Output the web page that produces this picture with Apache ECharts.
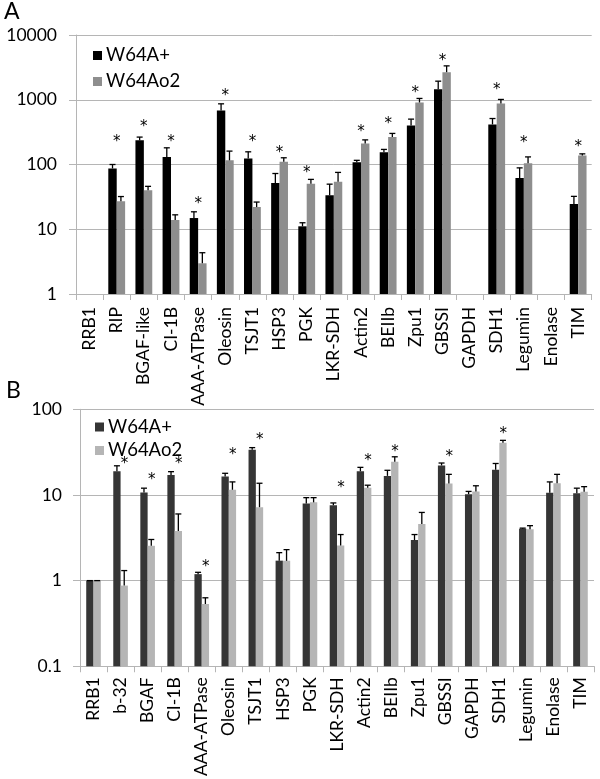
<!DOCTYPE html>
<html><head><meta charset="utf-8">
<script src="https://cdn.jsdelivr.net/npm/echarts@6/dist/echarts.min.js"></script>
<style>html,body{margin:0;padding:0;background:#fff}#a,#b{position:absolute;left:0;top:0;width:600px;height:779px}</style>
</head><body><div id="a"></div><div id="b"></div>
<script>
// ---------- Panel A ----------
const categoriesA = ['RRB1','RIP','BGAF-like','CI-1B','AAA-ATPase','Oleosin','TSJT1','HSP3','PGK','LKR-SDH','Actin2','BEIIb','Zpu1','GBSSI','GAPDH','SDH1','Legumin','Enolase','TIM'];
const aPlus   = [1, 87, 236, 130, 14.9, 684, 124, 51.6, 11.1, 33.4, 108, 154, 401, 1458, 1, 416, 61.7, 1, 24.5];
const aPlusSD = [null, 13, 29, 51, 3.7, 181, 33, 21, 1.5, 16.3, 8, 17, 101, 478, null, 97, 27, null, 7.7];
const aO2     = [1, 27, 40, 13.9, 2.98, 116, 22, 110, 50.4, 54, 211, 265, 908, 2667, 1, 877, 105, 1, 138];
const aO2SD   = [null, 5, 6, 2.8, 1.36, 45, 4.3, 17, 8.5, 21.5, 29, 37, 140, 669, null, 134, 26, null, 8];
const aStars  = [null, 244, 416, 244, 27.2, 1277, 244, 165, 82, null, 348, 468, 1406, 4336, null, 1549, 238, null, 204];
const yTicksA = [1, 10, 100, 1000, 10000];

// ---------- Panel B ----------
const categoriesB = ['RRB1','b-32','BGAF','CI-1B','AAA-ATPase','Oleosin','TSJT1','HSP3','PGK','LKR-SDH','Actin2','BEIIb','Zpu1','GBSSI','GAPDH','SDH1','Legumin','Enolase','TIM'];
const bPlus   = [1, 18.9, 10.7, 17.1, 1.19, 16.4, 33.6, 1.71, 7.94, 7.6, 18.9, 16.7, 2.97, 22.1, 10.2, 19.7, 4.04, 10.6, 10.5];
const bPlusSD = [0, 3.0, 1.3, 1.6, 0.06, 1.5, 2.1, 0.41, 1.36, 0.47, 2.1, 2.7, 0.48, 1.5, 0.8, 3.6, 0.06, 3.6, 1.5];
const bO2     = [1, 0.875, 2.55, 3.8, 0.533, 11.5, 7.2, 1.7, 8.2, 2.57, 12.1, 24.4, 4.58, 13.6, 11, 40.7, 3.98, 13.7, 10.9];
const bO2SD   = [0, 0.435, 0.47, 2.2, 0.097, 2.7, 6.5, 0.6, 1.1, 0.88, 0.9, 3.5, 1.67, 3.8, 1.8, 2.7, 0.4, 3.7, 1.6];
const bStars  = [null, 25.1, 16.3, 25.1, 1.57, 31.6, 47, null, null, 12.9, 26.7, 34.2, null, 29.6, null, 56.1, null, null, null];
const yTicksB = [0.1, 1, 10, 100];

const seriesNames = ['W64A+', 'W64Ao2'];
const FONT = 'Lato';

function errData(vals, sds) {
  const out = [];
  vals.forEach((v, i) => { if (sds[i] !== null && v !== null) out.push([i, v, v + sds[i]]); });
  return out;
}
function starData(stars) {
  const out = [];
  stars.forEach((s, i) => { if (s !== null) out.push([i, s]); });
  return out;
}
function errSeries(vals, sds, side, gap) {
  return {
    type: 'custom', silent: true, z: 5,
    data: errData(vals, sds),
    encode: { x: 0, y: [1, 2] },
    renderItem: function (params, api) {
      const i = api.value(0), v = api.value(1), top = api.value(2);
      const band = api.size([1, 0])[0];
      const bw = band * (1 - gap) / 2;
      const p0 = api.coord([i, v]);
      const p1 = api.coord([i, top]);
      const x = p0[0] + side * bw / 2;
      const st = { stroke: '#000', lineWidth: 1.3 };
      return { type: 'group', children: [
        { type: 'line', shape: { x1: x, y1: p0[1], x2: x, y2: p1[1] }, style: st },
        { type: 'line', shape: { x1: x - 3, y1: p1[1], x2: x + 3, y2: p1[1] }, style: st }
      ]};
    }
  };
}
function starSeries(stars, dx) {
  return {
    type: 'custom', silent: true, z: 6,
    data: starData(stars),
    encode: { x: 0, y: 1 },
    renderItem: function (params, api) {
      const p = api.coord([api.value(0), api.value(1)]);
      return { type: 'text', x: p[0] + dx, y: p[1] + 3,
        style: { text: '*', fontSize: 15, fontFamily: 'DejaVu Sans', fill: '#000', align: 'center', verticalAlign: 'middle' } };
    }
  };
}
function fmt(v) { return String(Number(Number(v).toPrecision(4))); }

function buildOption(o) {
  const gridColor = '#b5b5b5';
  return {
    animation: false,
    backgroundColor: 'transparent',
    textStyle: { fontFamily: FONT },
    graphic: [{ type: 'text', left: o.titlePos[0], top: o.titlePos[1],
      style: { text: o.title, fontSize: 23, fontFamily: FONT, fill: '#000' } }],
    legend: {
      orient: 'vertical', left: o.legendPos[0], top: o.legendPos[1],
      itemWidth: 9, itemHeight: 9, itemGap: o.legendGap, icon: 'rect',
      textStyle: { fontSize: 18.5, fontFamily: FONT, color: '#000', padding: [0, 0, 0, -1] },
      data: seriesNames
    },
    grid: o.grid,
    xAxis: {
      type: 'category', data: o.categories, boundaryGap: true,
      axisLine: { onZero: false, lineStyle: { color: gridColor, width: 1 } },
      axisTick: { show: true, length: 6, interval: 0, lineStyle: { color: gridColor } },
      axisLabel: { interval: 0, rotate: 90, margin: o.xMargin, color: '#000', fontSize: 17.5, fontFamily: FONT }
    },
    yAxis: {
      type: 'log', logBase: 10, min: o.ticks[0], max: o.ticks[o.ticks.length - 1], startValue: o.ticks[0],
      axisLine: { show: true, lineStyle: { color: gridColor } },
      axisTick: { show: true, length: 7, lineStyle: { color: gridColor } },
      splitLine: { show: true, lineStyle: { color: gridColor, width: 1 } },
      axisLabel: { margin: o.yMargin, color: '#000', fontSize: 17.5, fontFamily: FONT, formatter: fmt }
    },
    series: [
      { name: seriesNames[0], type: 'bar', data: o.plus, barGap: 0, barCategoryGap: (o.gap * 100) + '%',
        itemStyle: { color: o.colors[0] } },
      { name: seriesNames[1], type: 'bar', data: o.o2, barGap: 0, barCategoryGap: (o.gap * 100) + '%',
        itemStyle: { color: o.colors[1] } },
      errSeries(o.plus, o.plusSD, -1, o.gap),
      errSeries(o.o2, o.o2SD, 1, o.gap),
      starSeries(o.stars, o.starDx)
    ]
  };
}

const chartA = echarts.init(document.getElementById('a'), null, { renderer: 'canvas' });
chartA.setOption(buildOption({
  title: 'A', titlePos: [4, 0], legendPos: [88, 41], legendGap: 7,
  grid: { left: 76, top: 35, width: 515.7, height: 259 },
  categories: categoriesA, ticks: yTicksA, xMargin: 13, yMargin: 19,
  plus: aPlus, plusSD: aPlusSD, o2: aO2, o2SD: aO2SD, stars: aStars, starDx: 0,
  colors: ['#000000', '#8e8e8e'], gap: 0.38
}));
const chartB = echarts.init(document.getElementById('b'), null, { renderer: 'canvas' });
chartB.setOption(buildOption({
  title: 'B', titlePos: [6, 379], legendPos: [90, 412.5], legendGap: 4.5,
  grid: { left: 80, top: 409.3, width: 514, height: 260 },
  categories: categoriesB, ticks: yTicksB, xMargin: 11, yMargin: 18,
  plus: bPlus, plusSD: bPlusSD, o2: bO2, o2SD: bO2SD, stars: bStars, starDx: 4,
  colors: ['#353535', '#b5b5b5'], gap: 0.46
}));
</script></body></html>
